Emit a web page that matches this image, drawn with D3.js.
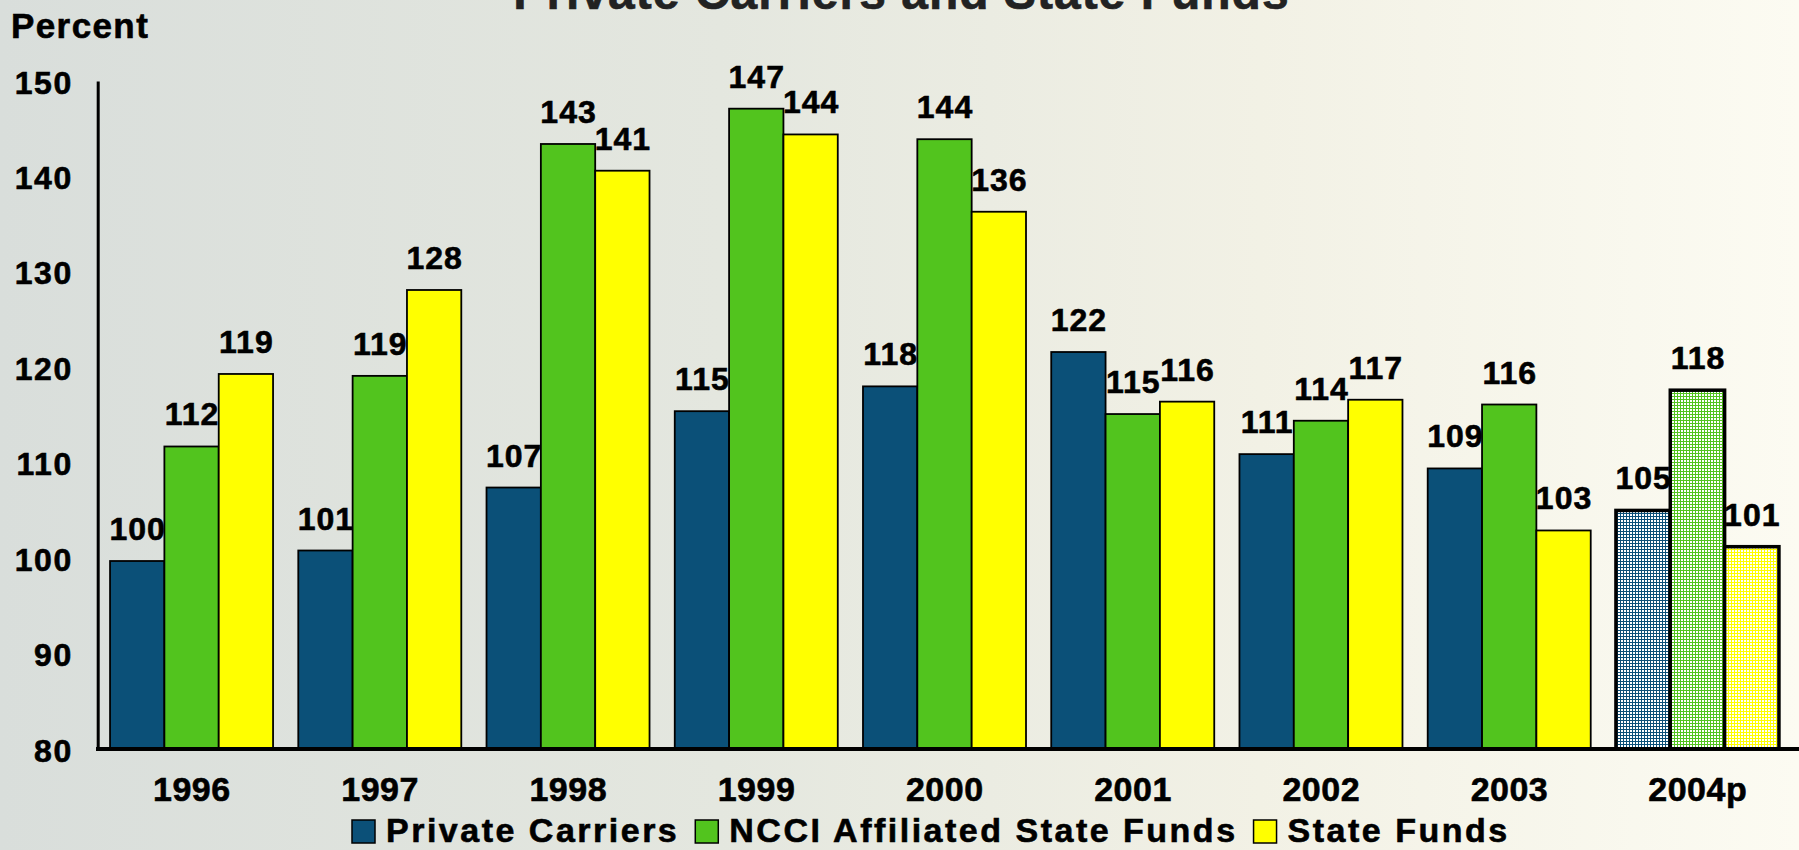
<!DOCTYPE html>
<html><head><meta charset="utf-8">
<script src="https://cdn.jsdelivr.net/npm/d3@7"></script>
<style>html,body{margin:0;padding:0;overflow:hidden;background:#e5e7e0}
text{stroke:#000;stroke-width:0.6px;paint-order:stroke}</style>
</head><body><svg id="c" width="1799" height="850"></svg>
<script>
const years = ["1996","1997","1998","1999","2000","2001","2002","2003","2004p"];
const seriesNames = ["Private Carriers","NCCI Affiliated State Funds","State Funds"];
const privateCarriers = [99.7, 100.8, 107.4, 115.4, 118.0, 121.6, 110.9, 109.4, 105.0];
const ncciFunds       = [111.7, 119.1, 143.4, 147.1, 143.9, 115.1, 114.4, 116.1, 117.6];
const stateFunds      = [119.3, 128.1, 140.6, 144.4, 136.3, 116.4, 116.6, 102.9, 101.2];
const yTicks = [80, 90, 100, 110, 120, 130, 140, 150];
const projectedYear = "2004p";
const titleText = "Private Carriers and State Funds";
const yLabel = "Percent";
const colors = ["#0b5078", "#52c41e", "#ffff00"];

const W = 1799, H = 850;
const FONT = "'Liberation Sans', Arial, sans-serif";
const svg = d3.select("#c");
const defs = svg.append("defs");

// background
const bg = defs.append("linearGradient").attr("id","bg").attr("x1","0").attr("x2","1").attr("y1","0").attr("y2","0");
[["0%","#d9dedb"],["40%","#e4e7df"],["70%","#f2f1e5"],["100%","#fcfbf2"]].forEach(s=>bg.append("stop").attr("offset",s[0]).attr("stop-color",s[1]));
svg.append("rect").attr("width",W).attr("height",H).attr("fill","url(#bg)");

// fine grid patterns for projected year
colors.forEach((c,i)=>{
  const p = defs.append("pattern").attr("id","pat"+i).attr("patternUnits","userSpaceOnUse").attr("width",3).attr("height",3);
  p.append("rect").attr("width",3).attr("height",3).attr("fill","#ffffff");
  p.append("rect").attr("width",3).attr("height",1).attr("fill",c);
  p.append("rect").attr("width",1).attr("height",3).attr("fill",c);
});

const x = d3.scaleBand().domain(years).range([98, 1791]).paddingInner(0.134).paddingOuter(0.064);
const xs = d3.scaleBand().domain([0,1,2]).range([0, x.bandwidth()]);
const y = d3.scaleLinear().domain([80,150]).range([749, 81]);

const series = [privateCarriers, ncciFunds, stateFunds];
const rows = [];
years.forEach((yr, j) => series.forEach((s, i) => rows.push({yr, i, v: s[j]})));

// title (cut at top as in the reference)
svg.append("text").attr("x", W/2 + 2).attr("y", 9)
  .attr("text-anchor","middle").attr("font-family",FONT).attr("font-weight","bold")
  .attr("font-size",48).attr("letter-spacing",1).attr("fill","#222").style("stroke","#222").text(titleText);

svg.append("text").attr("x", 11).attr("y", 38)
  .attr("font-family",FONT).attr("font-weight","bold").attr("font-size",35)
  .attr("letter-spacing",1.4).attr("fill","#000").text(yLabel);

// bars
svg.append("g").selectAll("rect").data(rows).join("rect")
  .attr("x", d => x(d.yr) + xs(d.i))
  .attr("y", d => y(d.v))
  .attr("width", xs.bandwidth())
  .attr("height", d => y(80) - y(d.v))
  .attr("fill", d => d.yr === projectedYear ? `url(#pat${d.i})` : colors[d.i])
  .attr("stroke", "#000")
  .attr("stroke-width", d => d.yr === projectedYear ? 3.5 : 1.8);

// value labels
svg.append("g").selectAll("text").data(rows).join("text")
  .attr("x", d => x(d.yr) + xs(d.i) + xs.bandwidth()/2 + 0.5)
  .attr("y", d => y(d.v) - 21)
  .attr("text-anchor","middle").attr("font-family",FONT).attr("font-weight","bold")
  .attr("font-size",32).attr("letter-spacing",1).attr("fill","#000").text(d => Math.round(d.v));

// y axis
const ya = svg.append("g").attr("transform","translate(97.7,0)")
  .call(d3.axisLeft(y).tickValues(yTicks).tickSize(0).tickSizeOuter(0).tickPadding(25));
ya.select(".domain").attr("stroke","#000").attr("stroke-width",3);
ya.selectAll("text").attr("font-family",FONT).attr("font-weight","bold").attr("font-size",32)
  .attr("letter-spacing",1.5).attr("fill","#000").attr("dy","12px");

// x axis
const xa = svg.append("g").attr("transform","translate(0,749)")
  .call(d3.axisBottom(x).tickSize(0).tickSizeOuter(0));
xa.select(".domain").remove();
xa.selectAll("text").attr("font-family",FONT).attr("font-weight","bold").attr("font-size",34)
  .attr("letter-spacing",0.5).attr("fill","#000").attr("dy","0").attr("y",52).attr("dx","0.25");
svg.append("line").attr("x1", x.range()[0]-2).attr("x2", W).attr("y1", y(80)).attr("y2", y(80))
  .attr("stroke","#000").attr("stroke-width",4);

// legend
const lg = svg.append("g");
let cx = 352;
seriesNames.forEach((name, i) => {
  lg.append("rect").attr("x", cx).attr("y", 820).attr("width", 23).attr("height", 23)
    .attr("fill", colors[i]).attr("stroke","#000").attr("stroke-width",1.5);
  const t = lg.append("text").attr("x", cx + 34).attr("y", 842)
    .attr("font-family",FONT).attr("font-weight","bold").attr("font-size",34)
    .attr("letter-spacing",2.5).attr("fill","#000").text(name);
  cx = cx + 34 + t.node().getComputedTextLength() + 16;
});
</script></body></html>
